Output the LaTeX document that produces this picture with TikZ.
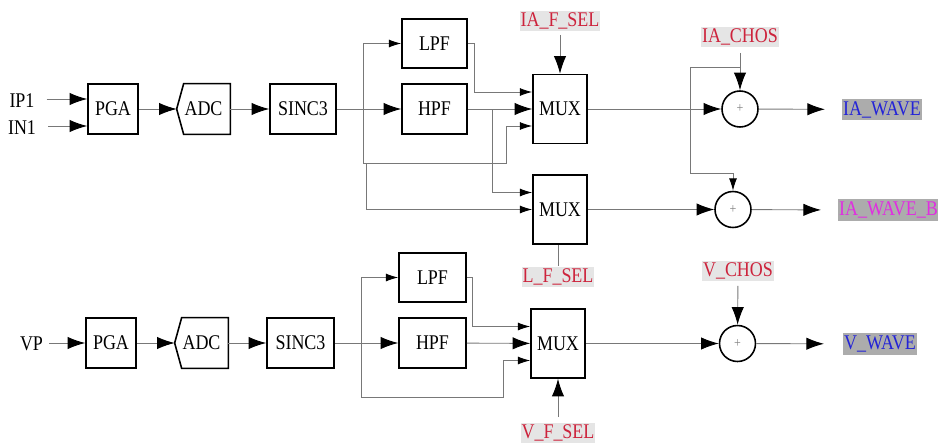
\documentclass[tikz,border=0pt]{standalone}
\usepackage{fontspec}
\setmainfont{Liberation Serif}[FakeStretch=0.86]
\usetikzlibrary{arrows.meta,positioning}
\definecolor{wiregray}{RGB}{120,120,120}
\definecolor{selred}{RGB}{205,35,60}
\definecolor{selbg}{RGB}{229,229,229}
\definecolor{wavebg}{RGB}{172,172,172}
\definecolor{waveblue}{RGB}{35,35,215}
\definecolor{wavemag}{RGB}{225,45,225}

\begin{document}
\begin{tikzpicture}[x=0.02cm,y=-0.02cm,>=Latex, every node/.style={font=\fontsize{11.9}{13}\selectfont}]
\tikzstyle{box}=[draw=black, line width=0.9pt, minimum height=1cm, inner sep=0pt]
\tikzstyle{adcbox}=[minimum height=1cm, minimum width=1.06cm, inner sep=0pt]
\tikzstyle{mux}=[box, minimum width=1.08cm, minimum height=1.38cm]
\tikzstyle{sum}=[circle, draw=black, line width=0.9pt, minimum size=0.72cm, inner sep=0pt]
\tikzstyle{sel}=[fill=selbg, text=selred, inner xsep=0.5pt, inner ysep=1.2pt, text height=8pt, text depth=1.5pt]
\tikzstyle{wave}=[fill=wavebg, inner xsep=0.5pt, inner ysep=1.4pt, text height=8pt, text depth=1.5pt]
\tikzstyle{wire}=[draw=wiregray, line width=0.5pt]
\tikzstyle{bigarr}=[-{Latex[length=10pt,width=7pt,color=black]}]
\tikzstyle{smallarr}=[-{Latex[length=7pt,width=4.5pt,color=black]}]
\useasboundingbox (0,0) rectangle (938,443);

% current channel
\node (ip1) at (22,101) {IP1};
\node (in1) at (22,128) {IN1};
\node[box, minimum width=1cm] (pga1) at (113,109) {PGA};
\node[adcbox] (adc1) at (203.5,109) {ADC};
\node[box, minimum width=1.32cm] (sinc1) at (303,109) {SINC3};
\node[box, minimum width=1.3cm, minimum height=0.98cm] (lpf1) at (434.5,43.5) {LPF};
\node[box, minimum width=1.3cm] (hpf1) at (434.5,109) {HPF};
\node[mux] (mux1) at (560,109) {MUX};
\node[mux] (mux2) at (560,209.5) {MUX};
\node[sum] (sum1) at (740,109) {\textcolor{gray}{\footnotesize +}};
\node[sum] (sum2) at (733,209.5) {\textcolor{gray}{\footnotesize +}};
\node[sel] (fsel1) at (560,21) {IA\_F\_SEL};
\node[sel] (chos1) at (740,37) {IA\_CHOS};
\node[sel] (lfsel) at (558,277) {L\_F\_SEL};
\node[wave, text=waveblue] (wave1) at (882,109.5) {IA\_WAVE};
\node[wave, text=wavemag, anchor=west] (wave2) at (838,210) {IA\_WAVE\_B};
\draw[line width=0.9pt] ([xshift=0.14cm]adc1.north west) -- (adc1.north east) -- (adc1.south east) -- ([xshift=0.14cm]adc1.south west) -- (adc1.west) -- cycle;

\coordinate (j1) at (363,109);
\coordinate (j1b) at (363,163);
\coordinate (j1c) at (366,163);
\coordinate (j2) at (492,109);
\coordinate (k1) at (740,67);
\draw[wire,bigarr,shorten <=0.12cm] (ip1.east) ++(0,-2) -- (pga1.west |- 0,99);
\draw[wire,bigarr,shorten <=0.12cm] (in1.east) ++(0,-2) -- (pga1.west |- 0,126);
\draw[wire,bigarr] (pga1) -- (adc1.west);
\draw[wire,bigarr] (adc1) -- (sinc1);
\draw[wire] (sinc1) -- (j1);
\draw[wire,bigarr] (j1) -- (hpf1);
\draw[wire,smallarr] (j1) |- (lpf1);
\draw[wire] (j1) -- (j1b);
\draw[wire,smallarr] (j1b) -- ++(143,0) |- ([yshift=-0.34cm]mux1.west);
\draw[wire,smallarr] (j1c) |- (mux2.west);
\draw[wire,smallarr] (lpf1.east) -- ++(7,0) |- ([yshift=0.34cm]mux1.west);
\draw[wire,bigarr] (hpf1) -- (mux1);
\draw[wire,smallarr] (j2) |- ([yshift=0.34cm]mux2.west);
\draw[wire,bigarr,shorten <=0.06cm] (fsel1) -- (mux1);
\draw[wire] (lfsel) -- (mux2.south -| lfsel);
\draw[wire,bigarr] (mux1) -- (sum1);
\draw[wire,bigarr,shorten <=0.1cm] (chos1) -- (sum1);
\draw[wire,smallarr] (k1) -| ++(-50,106) -| (sum2);
\draw[wire,bigarr] (mux2) -- (sum2);
\draw[wire,bigarr,shorten >=0.34cm] (sum1) -- (wave1);
\draw[wire,bigarr,shorten >=0.34cm] (sum2) -- (wave2.west);

% voltage channel
\node (vp) at (31.5,344) {VP};
\node[box, minimum width=1cm] (pga2) at (111,343) {PGA};
\node[adcbox] (adc2) at (201.5,343) {ADC};
\node[box, minimum width=1.34cm] (sinc2) at (300.5,343) {SINC3};
\node[box, minimum width=1.34cm, minimum height=0.98cm] (lpf2) at (432.5,277.5) {LPF};
\node[box, minimum width=1.34cm] (hpf2) at (432.5,343) {HPF};
\node[mux] (mux3) at (558,343.5) {MUX};
\node[sum] (sum3) at (737.5,343.5) {\textcolor{gray}{\footnotesize +}};
\node[sel] (vchos) at (738,271) {V\_CHOS};
\node[sel] (vfsel) at (558,433) {V\_F\_SEL};
\node[wave, text=waveblue] (wave3) at (880,344) {V\_WAVE};
\draw[line width=0.9pt] ([xshift=0.14cm]adc2.north west) -- (adc2.north east) -- (adc2.south east) -- ([xshift=0.14cm]adc2.south west) -- (adc2.west) -- cycle;

\coordinate (j3) at (361,343);
\coordinate (j3b) at (361,397);
\draw[wire,bigarr] (vp.east) ++(0,-1) -- (pga2);
\draw[wire,bigarr] (pga2) -- (adc2.west);
\draw[wire,bigarr] (adc2) -- (sinc2);
\draw[wire] (sinc2) -- (j3);
\draw[wire,bigarr] (j3) -- (hpf2);
\draw[wire,smallarr] (j3) |- (lpf2);
\draw[wire] (j3) -- (j3b);
\draw[wire,smallarr] (j3b) -- ++(142,0) |- ([yshift=-0.34cm]mux3.west);
\draw[wire,smallarr] (lpf2.east) -- ++(6,0) |- ([yshift=0.34cm]mux3.west);
\draw[wire,bigarr] (hpf2) -- (mux3);
\draw[wire,bigarr,shorten <=0.1cm] (vfsel) -- (mux3);
\draw[wire,bigarr] (mux3) -- (sum3);
\draw[wire,bigarr,shorten <=0.08cm] (vchos) -- (sum3);
\draw[wire,bigarr,shorten >=0.38cm] (sum3) -- (wave3);
\end{tikzpicture}
\end{document}
